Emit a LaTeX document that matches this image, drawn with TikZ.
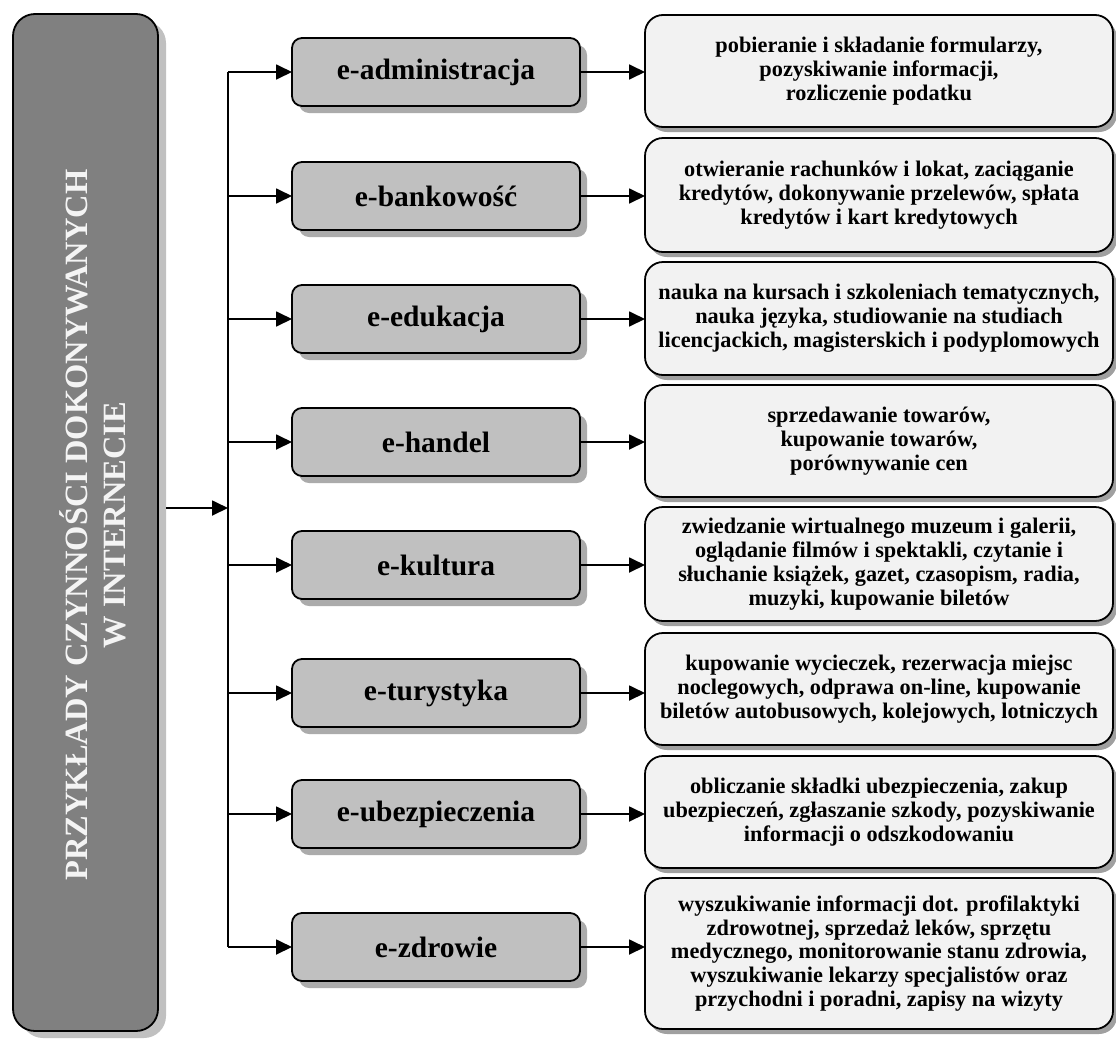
\documentclass[tikz,border=0pt]{standalone}
\usepackage{fontspec}
\setmainfont{Liberation Serif}
\usetikzlibrary{arrows.meta,shadows}
\definecolor{titlefill}{HTML}{808080}
\definecolor{titleshadow}{HTML}{C0C0C0}
\definecolor{midfill}{HTML}{C0C0C0}
\definecolor{midshadow}{HTML}{ABABAB}
\definecolor{rightfill}{HTML}{F2F2F2}
\definecolor{rightshadow}{HTML}{A0A0A0}
\definecolor{titletext}{HTML}{F4F4F4}
\begin{document}
\begin{tikzpicture}[x=1pt,y=-1pt,
  base/.style={draw=black, line width=1.8pt, inner sep=0pt, outer sep=0pt},
  titlebox/.style={base, rounded corners=22pt, fill=titlefill, minimum width=145pt, minimum height=1017pt,
    drop shadow={shadow xshift=8pt, shadow yshift=-7pt, fill=titleshadow, opacity=1}},
  titletextstyle/.style={rotate=90, align=center, text=titletext, inner sep=0pt,
    font=\fontsize{32.5}{38.5}\selectfont\bfseries},
  midbox/.style={base, rounded corners=10pt, fill=midfill, minimum width=288pt, minimum height=68pt,
    font=\fontsize{29.5}{32}\selectfont\bfseries,
    drop shadow={shadow xshift=7pt, shadow yshift=-7pt, fill=midshadow, opacity=1}},
  rightbox/.style={base, rounded corners=18pt, fill=rightfill, minimum width=468pt, align=center,
    font=\fontsize{22.3}{23.8}\selectfont\bfseries,
    drop shadow={shadow xshift=4pt, shadow yshift=-5pt, fill=rightshadow, opacity=1}},
  conn/.style={line width=1.8pt, draw=black},
  arr/.style={conn, -{Triangle[length=16pt,width=15pt]}}
]
\useasboundingbox (0,0) rectangle (1116,1039);

% title box
\node[titlebox] (lbox) at (85.5,522.5) {};
\node[titletextstyle] (ltext) at (93,525) {PRZYKŁADY CZYNNOŚCI DOKONYWANYCH\\W INTERNECIE};

% middle boxes
\node[midbox] (m1) at (436,72) {e-administracja};
\node[midbox] (m2) at (436,196) {e-bankowość};
\node[midbox] (m3) at (436,319) {e-edukacja};
\node[midbox] (m4) at (436,442) {e-handel};
\node[midbox] (m5) at (436,565) {e-kultura};
\node[midbox] (m6) at (436,693) {e-turystyka};
\node[midbox] (m7) at (436,814) {e-ubezpieczenia};
\node[midbox] (m8) at (436,947) {e-zdrowie};

% right boxes
\node[rightbox, minimum height=112pt] (r1) at (879,71) {pobieranie i składanie formularzy,\\pozyskiwanie informacji,\\rozliczenie podatku};
\node[rightbox, minimum height=114pt] (r2) at (879,195) {otwieranie rachunków i lokat, zaciąganie\\kredytów, dokonywanie przelewów, spłata\\kredytów i kart kredytowych};
\node[rightbox, minimum height=113pt] (r3) at (879,318.5) {nauka na kursach i szkoleniach tematycznych,\\nauka języka, studiowanie na studiach\\licencjackich, magisterskich i podyplomowych};
\node[rightbox, minimum height=112pt] (r4) at (879,441) {sprzedawanie towarów,\\kupowanie towarów,\\porównywanie cen};
\node[rightbox, minimum height=114pt] (r5) at (879,564) {zwiedzanie wirtualnego muzeum i galerii,\\oglądanie filmów i spektakli, czytanie i\\słuchanie książek, gazet, czasopism, radia,\\muzyki, kupowanie biletów};
\node[rightbox, minimum height=112pt] (r6) at (879,689) {kupowanie wycieczek, rezerwacja miejsc\\noclegowych, odprawa on-line, kupowanie\\biletów autobusowych, kolejowych, lotniczych};
\node[rightbox, minimum height=112pt] (r7) at (879,812) {obliczanie składki ubezpieczenia, zakup\\ubezpieczeń, zgłaszanie szkody, pozyskiwanie\\informacji o odszkodowaniu};
\node[rightbox, minimum height=151pt] (r8) at (879,953.5) {wyszukiwanie informacji dot. profilaktyki\\zdrowotnej, sprzedaż leków, sprzętu\\medycznego, monitorowanie stanu zdrowia,\\wyszukiwanie lekarzy specjalistów oraz\\przychodni i poradni, zapisy na wizyty};

% connectors
\coordinate (trunk) at (228,508);
\draw[arr, shorten <=8pt] (lbox.east |- trunk) -- (trunk);
\draw[conn] (trunk |- m1.west) -- (trunk |- m8.west);
\foreach \i in {1,...,8}{
  \draw[arr] (trunk |- m\i.west) -- (m\i.west);
  \draw[arr] (m\i.east) -- (m\i.east -| r\i.west);
}
\end{tikzpicture}
\end{document}
